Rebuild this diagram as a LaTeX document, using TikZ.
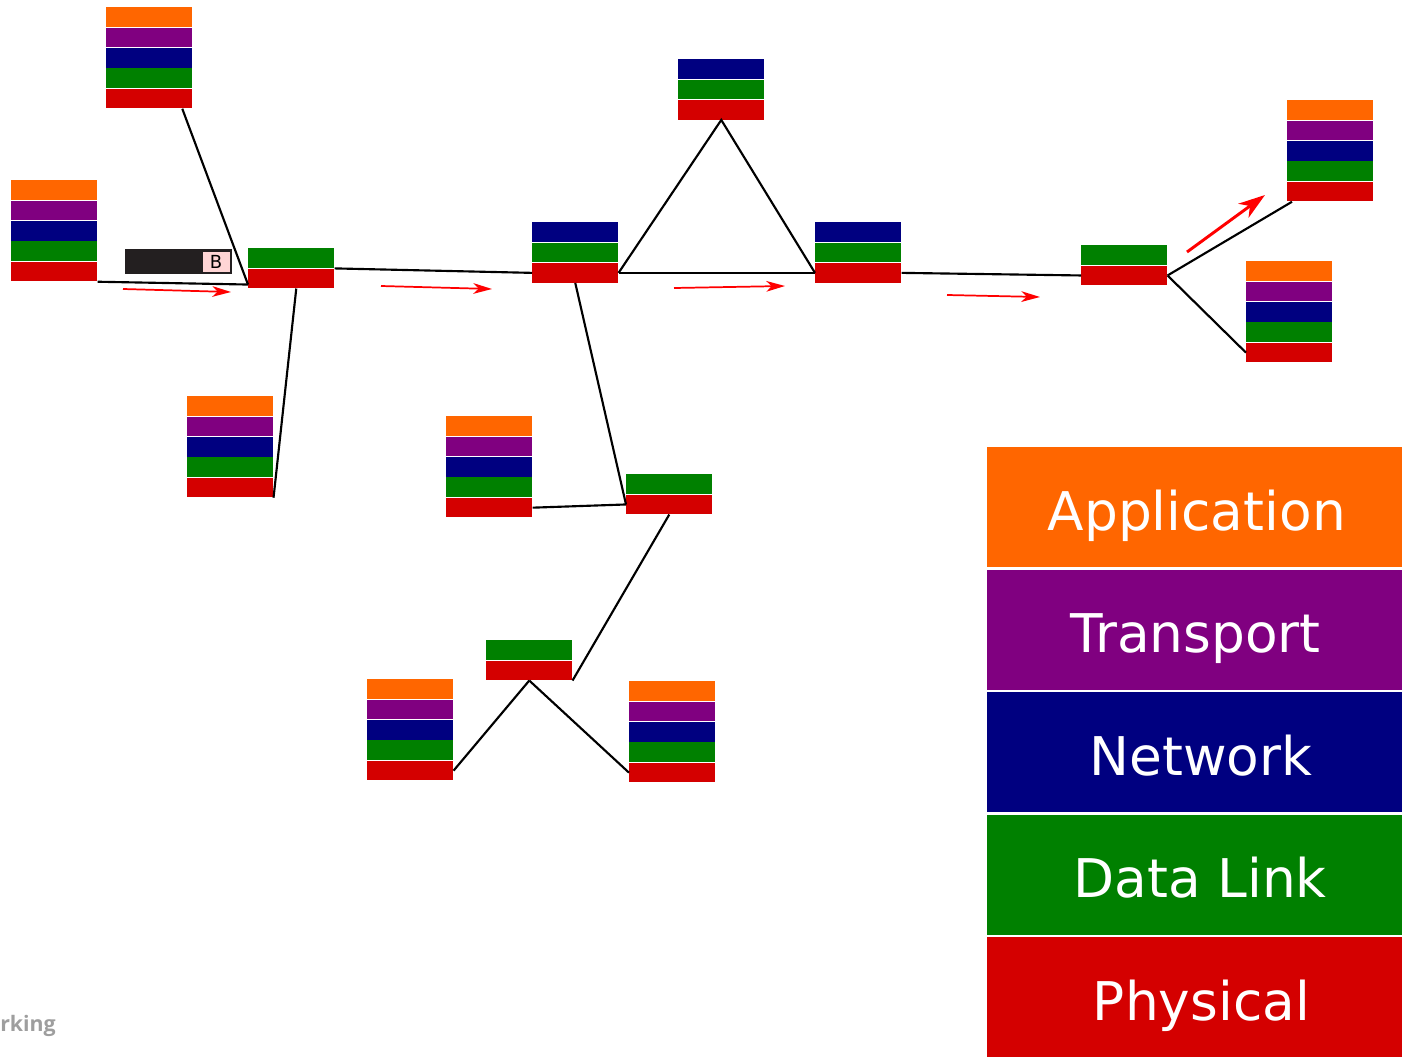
\documentclass[tikz,border=0pt]{standalone}
\usepackage{fontspec}
\setmainfont{DejaVu Sans}
\newfontfamily\markfont{Open Sans}
\usetikzlibrary{arrows.meta,calc,positioning}

% one colour per layer
\definecolor{app}{HTML}{FF6600}
\definecolor{trn}{HTML}{800080}
\definecolor{net}{HTML}{000080}
\definecolor{lnk}{HTML}{008000}
\definecolor{phy}{HTML}{D40000}
\definecolor{pktdark}{HTML}{231F20}
\definecolor{pktpink}{HTML}{FFD5D5}

\tikzset{
  layer/.style={rectangle, inner sep=0pt, minimum width=64.5pt, minimum height=14.7pt, anchor=north west},
  link/.style={black, line width=1.6pt},
  flow/.style={red, line width=1.3pt, -{Stealth[length=14pt,width=8pt,inset=4pt]}},
  keybox/.style={rectangle, inner sep=0pt, anchor=north west, minimum width=311.25pt, minimum height=90pt,
    text=white, text height=34.5pt, text depth=0pt, font=\fontsize{40}{48}\selectfont}
}

% #1 name, #2 top left corner, #3 layers from top to bottom
\newcommand{\layerstack}[3]{%
  \foreach \c [count=\i from 0] in {#3}
    \path (#2) ++(0,{\i*20.4}) node[layer, fill=\c] (#1-\c) {};}

\begin{document}
\begin{tikzpicture}[x=0.75pt, y=-0.75pt]
  \useasboundingbox (0,0) rectangle (1402,1056);

  % hosts
  \layerstack{h1}{106,7}{app,trn,net,lnk,phy}
  \layerstack{h2}{11,180}{app,trn,net,lnk,phy}
  \layerstack{h3}{187,396}{app,trn,net,lnk,phy}
  \layerstack{h4}{446,416}{app,trn,net,lnk,phy}
  \layerstack{h5}{367,679}{app,trn,net,lnk,phy}
  \layerstack{h6}{629,681}{app,trn,net,lnk,phy}
  \layerstack{h7}{1287,100}{app,trn,net,lnk,phy}
  \layerstack{h8}{1246,261}{app,trn,net,lnk,phy}
  % routers
  \layerstack{r1}{532,222}{net,lnk,phy}
  \layerstack{r2}{678,59}{net,lnk,phy}
  \layerstack{r3}{815,222}{net,lnk,phy}
  % switches
  \layerstack{s1}{248,248}{lnk,phy}
  \layerstack{s2}{626,474}{lnk,phy}
  \layerstack{s3}{486,640}{lnk,phy}
  \layerstack{s4}{1081,245}{lnk,phy}

  % cabling
  \draw[link] (h2-phy.south east) -- ($(s1-phy.south west)+(0,-4)$);
  \draw[link] ($(h1-phy.south)+(33,0)$) -- ($(s1-phy.south west)+(0,-4)$);
  \draw[link] ($(s1-phy.south)+(5,0)$) -- (h3-phy.south east);
  \draw[link] (s1-phy.north east) -- (r1-phy.west);
  \draw[link] (r1-phy.south) -- (s2-phy.west);
  \draw[link] (h4-phy.east) -- (s2-phy.west);
  \draw[link] (s2-phy.south) -- (s3-phy.south east);
  \draw[link] (s3-phy.south) -- (h5-phy.east);
  \draw[link] (s3-phy.south) -- (h6-phy.west);
  \draw[link] (r1-phy.east) -- (r3-phy.west);
  \draw[link] (r1-phy.east) -- (r2-phy.south) -- (r3-phy.west);
  \draw[link] (r3-phy.east) -- (s4-phy.west);
  \draw[link] (s4-phy.east) -- ($(h7-phy.south west)+(5,0)$);
  \draw[link] (s4-phy.east) -- (h8-phy.west);

  % the packet on its way
  \node[rectangle, fill=pktdark, inner sep=0pt, minimum width=80pt, minimum height=18.75pt, anchor=north west] (pkt) at (125,249) {};
  \node[rectangle, fill=pktpink, draw=pktdark, inner sep=0pt, minimum width=21pt, minimum height=15.5pt, anchor=east,
        font=\fontsize{13.5}{15}\selectfont] (pkt-b) at ($(pkt.east)+(-2,0)$) {B};

  % direction of travel
  \draw[flow] (123,289) -- (231,292);
  \draw[flow] (381,286) -- (492,289);
  \draw[flow] (674,288) -- (785,286);
  \draw[flow] (947,295) -- (1040,297);
  \draw[red, line width=2.2pt, -{Stealth[length=20pt,width=13pt,inset=6pt]}] (1187,252) -- (1265,195);

  % key
  \foreach \c/\t/\dx [count=\i from 0] in {app/Application/3,trn/Transport/1,net/Network/9,lnk/Data Link/8,phy/Physical/10}
    \node[keybox, fill=\c] (key-\c) at (987,{447+\i*122.5}) {\hspace*{\dx pt}\t};

  \node[anchor=base west, inner sep=0pt, text=black!38, font=\markfont\bfseries\fontsize{16}{18}\selectfont] (credit) at (0,1031) {rking};
\end{tikzpicture}
\end{document}
